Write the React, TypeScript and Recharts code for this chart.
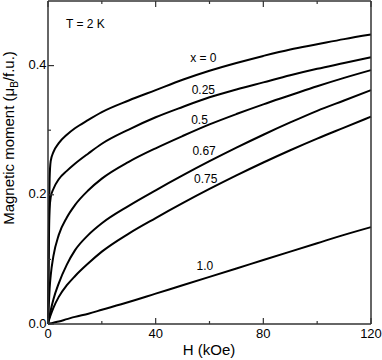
import React from 'react';
import { LineChart, Line, XAxis, YAxis, ReferenceDot, Label } from 'recharts';

// field (kOe) and magnetic moment (muB/f.u.)
const fieldH = [0, 0.3, 0.6, 1, 2, 4, 7, 10, 15, 20, 30, 40, 50, 60, 70, 80, 90, 100, 110, 120];
const momentX0 = [0, 0.14, 0.225, 0.252, 0.266, 0.28, 0.293, 0.303, 0.316, 0.328, 0.346, 0.362, 0.378, 0.392, 0.404, 0.415, 0.425, 0.433, 0.441, 0.448];
const momentX025 = [0, 0.12, 0.178, 0.196, 0.209, 0.224, 0.237, 0.248, 0.264, 0.279, 0.301, 0.32, 0.336, 0.351, 0.363, 0.374, 0.385, 0.395, 0.404, 0.413];
const momentX05 = [0, 0.03, 0.055, 0.075, 0.105, 0.138, 0.165, 0.184, 0.207, 0.225, 0.251, 0.272, 0.291, 0.309, 0.325, 0.34, 0.354, 0.368, 0.381, 0.393];
const momentX067 = [0, 0.007, 0.013, 0.021, 0.038, 0.063, 0.092, 0.114, 0.138, 0.156, 0.183, 0.207, 0.23, 0.252, 0.273, 0.293, 0.312, 0.33, 0.346, 0.362];
const momentX075 = [0, 0.005, 0.009, 0.014, 0.025, 0.042, 0.06, 0.074, 0.094, 0.112, 0.14, 0.164, 0.187, 0.209, 0.23, 0.25, 0.269, 0.287, 0.304, 0.321];
const momentX1 = [0, 0.0003, 0.0007, 0.001, 0.002, 0.004, 0.0075, 0.011, 0.016, 0.022, 0.034, 0.047, 0.06, 0.073, 0.086, 0.099, 0.112, 0.125, 0.138, 0.15];

const seriesKeys = ['x0', 'x025', 'x05', 'x067', 'x075', 'x1'];
const seriesValues = [momentX0, momentX025, momentX05, momentX067, momentX075, momentX1];
const curveLabels = ['x = 0', '0.25', '0.5', '0.67', '0.75', '1.0'];
const labelH = [57.7, 57.7, 56.3, 58.0, 58.6, 58.3];
const labelM = [0.412, 0.363, 0.316, 0.2686, 0.225, 0.0903];

const xTicks = [0, 20, 40, 60, 80, 100, 120];
const xMajor = [0, 40, 80, 120];
const yTicks = [0, 0.1, 0.2, 0.3, 0.4];
const yMajor = [0, 0.2, 0.4];

const data = fieldH.map((h, i) => {
  const row: Record<string, number> = { h };
  seriesKeys.forEach((k, s) => {
    row[k] = seriesValues[s][i];
  });
  return row;
});

const FONT = '"Liberation Sans", Arial, Helvetica, sans-serif';
const AXIS = '#333';
const TS = 5; // recharts tick offset, compensated below

const isMajor = (list: number[], v: number) => list.some((m) => Math.abs(m - v) < 1e-6);

const LeftTick = (p: any) => {
  const ax = p.x + TS;
  const major = isMajor(yMajor, p.payload.value);
  return (
    <g>
      <line x1={ax} x2={ax + (major ? 6 : 3)} y1={p.y} y2={p.y} stroke={AXIS} strokeWidth={1.2} />
      {major && (
        <text x={ax - 1.5} y={p.y - 1} dy="0.35em" textAnchor="end" fontSize={13} fontFamily={FONT} fill="#000">
          {p.payload.value.toFixed(1)}
        </text>
      )}
    </g>
  );
};

const RightTick = (p: any) => {
  const ax = p.x - TS;
  const major = isMajor(yMajor, p.payload.value);
  return <line x1={ax} x2={ax - (major ? 6 : 3)} y1={p.y} y2={p.y} stroke={AXIS} strokeWidth={1.2} />;
};

const BottomTick = (p: any) => {
  const ay = p.y - TS;
  const major = isMajor(xMajor, p.payload.value);
  return (
    <g>
      <line x1={p.x} x2={p.x} y1={ay} y2={ay - (major ? 6 : 3)} stroke={AXIS} strokeWidth={1.2} />
      {major && (
        <text x={p.x} y={ay + 9} dy="0.35em" textAnchor="middle" fontSize={13} fontFamily={FONT} fill="#000">
          {String(p.payload.value)}
        </text>
      )}
    </g>
  );
};

const TopTick = (p: any) => {
  const ay = p.y + TS;
  const major = isMajor(xMajor, p.payload.value);
  return <line x1={p.x} x2={p.x} y1={ay} y2={ay + (major ? 6 : 3)} stroke={AXIS} strokeWidth={1.2} />;
};

const YTitle = () => (
  <text
    x={14}
    y={138}
    transform="rotate(-90 14 138)"
    textAnchor="middle"
    fontSize={15}
    fontFamily={FONT}
    fill="#000"
  >
    <tspan>Magnetic moment (μ</tspan>
    <tspan fontSize={10} dy={4}>B</tspan>
    <tspan dy={-4}>/f.u.)</tspan>
  </text>
);

const XTitle = () => (
  <text x={209} y={355} textAnchor="middle" fontSize={15} fontFamily={FONT} fill="#000">
    H (kOe)
  </text>
);

export default function App() {
  return (
    <div style={{ position: 'absolute', left: 0, top: 0, width: 382, height: 360, background: '#fff' }}>
      <LineChart width={382} height={360} data={data} margin={{ top: 0, right: 10, bottom: 0, left: 0 }}>
        <XAxis
          dataKey="h"
          type="number"
          domain={[0, 120]}
          ticks={xTicks}
          height={36}
          axisLine={{ stroke: AXIS, strokeWidth: 1.5 }}
          tickLine={false}
          tickSize={TS}
          tickMargin={0}
          tick={BottomTick}
          interval={0}
        >
          <Label content={XTitle} />
        </XAxis>
        <XAxis
          xAxisId="top"
          orientation="top"
          dataKey="h"
          type="number"
          domain={[0, 120]}
          ticks={xTicks}
          height={1}
          axisLine={{ stroke: AXIS, strokeWidth: 1.5 }}
          tickLine={false}
          tickSize={TS}
          tickMargin={0}
          tick={TopTick}
          interval={0}
        />
        <YAxis
          type="number"
          domain={[0, 0.5]}
          ticks={yTicks}
          width={48}
          axisLine={{ stroke: AXIS, strokeWidth: 1.5 }}
          tickLine={false}
          tickSize={TS}
          tickMargin={0}
          tick={LeftTick}
          interval={0}
        >
          <Label content={YTitle} />
        </YAxis>
        <YAxis
          yAxisId="right"
          orientation="right"
          type="number"
          domain={[0, 0.5]}
          ticks={yTicks}
          width={1}
          axisLine={{ stroke: AXIS, strokeWidth: 1.5 }}
          tickLine={false}
          tickSize={TS}
          tickMargin={0}
          tick={RightTick}
          interval={0}
        />
        {seriesKeys.map((k) => (
          <Line
            key={k}
            dataKey={k}
            type="monotone"
            stroke="#000"
            strokeWidth={2}
            dot={false}
            isAnimationActive={false}
          />
        ))}
        {curveLabels.map((t, i) => (
          <ReferenceDot
            key={t}
            x={labelH[i]}
            y={labelM[i]}
            r={1}
            fill="none"
            stroke="none"
            label={{ value: t, position: 'center', fontSize: 12, fill: '#000', fontFamily: FONT }}
          />
        ))}
        <ReferenceDot
          x={13.9}
          y={0.4655}
          r={1}
          fill="none"
          stroke="none"
          label={{ value: 'T = 2 K', position: 'center', fontSize: 12, fill: '#000', fontFamily: FONT }}
        />
      </LineChart>
    </div>
  );
}
